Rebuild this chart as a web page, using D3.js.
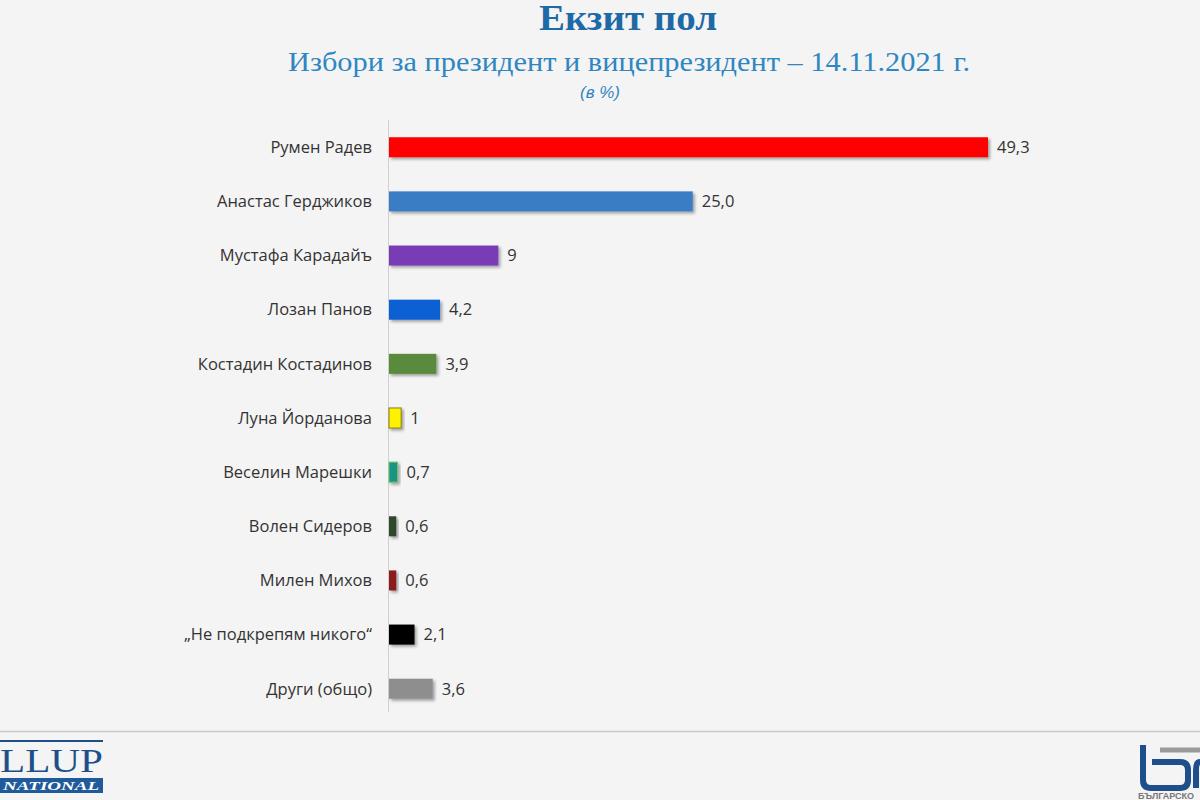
<!DOCTYPE html>
<html><head><meta charset="utf-8">
<script src="https://cdn.jsdelivr.net/npm/d3@7"></script>
<style>html,body{margin:0;padding:0;background:#f4f4f4;}svg{display:block;}</style>
</head><body>
<script>
const categories = ["Румен Радев","Анастас Герджиков","Мустафа Карадайъ","Лозан Панов","Костадин Костадинов","Луна Йорданова","Веселин Марешки","Волен Сидеров","Милен Михов","„Не подкрепям никого“","Други (общо)"];
const values = [49.3, 25.0, 9, 4.2, 3.9, 1, 0.7, 0.6, 0.6, 2.1, 3.6];
const valueLabels = ["49,3","25,0","9","4,2","3,9","1","0,7","0,6","0,6","2,1","3,6"];
const colors = ["#ff0000","#3a7dc4","#7a3bb6","#1060d4","#5a8b3c","#fff200","#1b9484","#2f4a2b","#8b1a1a","#050505","#8e8e8e"];
const strokes = [null,null,null,null,null,"#8a7a10","#6cc46c",null,null,null,null];

const W=1200,H=800;
const svg=d3.select("body").append("svg").attr("width",W).attr("height",H);
svg.append("rect").attr("width",W).attr("height",H).attr("fill","#f4f4f4");
const defs=svg.append("defs");
const f=defs.append("filter").attr("id","sh").attr("x","-20%").attr("y","-30%").attr("width","150%").attr("height","180%");
f.append("feDropShadow").attr("dx",2).attr("dy",2).attr("stdDeviation",1.5).attr("flood-color","#000").attr("flood-opacity",0.35);

// titles
svg.append("text").attr("x",628).attr("y",30).attr("text-anchor","middle")
  .attr("font-family","Liberation Serif, serif").attr("font-weight","bold").attr("font-size",35)
  .attr("fill","#1e6aa6").attr("textLength",178).attr("lengthAdjust","spacingAndGlyphs").text("Екзит пол");
svg.append("text").attr("x",629).attr("y",71).attr("text-anchor","middle")
  .attr("font-family","Liberation Serif, serif").attr("font-size",27)
  .attr("fill","#2f86c0").attr("textLength",682).attr("lengthAdjust","spacingAndGlyphs").text("Избори за президент и вицепрезидент – 14.11.2021  г.");
svg.append("text").attr("x",600).attr("y",98).attr("text-anchor","middle")
  .attr("font-family","Liberation Sans, sans-serif").attr("font-style","italic").attr("font-size",17)
  .attr("fill","#2f86c0").text("(в %)");

const x0=389;
const x=d3.scaleLinear().domain([0,49.3]).range([x0,988]);
const y=d3.scaleBand().domain(categories).range([121,715]).paddingInner(0.63).paddingOuter(0.3);

// axis line
svg.append("line").attr("x1",x0-0.5).attr("x2",x0-0.5).attr("y1",120).attr("y2",712).attr("stroke","#d0d0d0").attr("stroke-width",1);

const g=svg.append("g");
g.selectAll("rect.bar").data(values).join("rect").attr("class","bar")
  .attr("x",x0).attr("y",(d,i)=>y(categories[i]))
  .attr("width",d=>x(d)-x0).attr("height",y.bandwidth())
  .attr("fill",(d,i)=>colors[i]).attr("filter","url(#sh)")
  .attr("stroke",(d,i)=>strokes[i]||"none").attr("stroke-width",1);

g.selectAll("text.cat").data(categories).join("text").attr("class","cat")
  .attr("x",372).attr("y",d=>y(d)+y.bandwidth()/2).attr("dy","0.35em").attr("text-anchor","end")
  .attr("font-family","Open Sans, sans-serif").attr("font-size",16.5).attr("fill","#333").text(d=>d);

g.selectAll("text.val").data(values).join("text").attr("class","val")
  .attr("x",d=>x(d)+9).attr("y",(d,i)=>y(categories[i])+y.bandwidth()/2).attr("dy","0.35em")
  .attr("font-family","Open Sans, sans-serif").attr("font-size",16.5).attr("fill","#333").text((d,i)=>valueLabels[i]);

// bottom line
svg.append("line").attr("x1",0).attr("x2",W).attr("y1",731.5).attr("y2",731.5).attr("stroke","#c8c8c8").attr("stroke-width",1.5);

// left logo
svg.append("line").attr("x1",0).attr("x2",103).attr("y1",741).attr("y2",741).attr("stroke","#1f4f8a").attr("stroke-width",2);
svg.append("text").attr("x",0).attr("y",772).attr("font-family","Liberation Serif, serif").attr("font-size",34)
  .attr("fill","#1f4f8a").attr("textLength",103).attr("lengthAdjust","spacingAndGlyphs").text("LLUP");
svg.append("rect").attr("x",0).attr("y",778).attr("width",103).attr("height",15).attr("fill","#1f5a9a");
svg.append("text").attr("x",3).attr("y",790).attr("font-family","Liberation Serif, serif").attr("font-style","italic").attr("font-weight","bold").attr("font-size",12)
  .attr("fill","#fff").attr("textLength",96).attr("lengthAdjust","spacingAndGlyphs").text("NATIONAL");

// right logo
const rl=svg.append("g");
rl.append("path").attr("d","M1143,745 V780 Q1143,788 1151,788 H1180 Q1188,788 1188,780 V770 Q1188,762 1180,762 H1152")
  .attr("fill","none").attr("stroke","#1f4f8a").attr("stroke-width",6);
rl.append("line").attr("x1",1160).attr("x2",1200).attr("y1",750).attr("y2",750).attr("stroke","#9a9a9a").attr("stroke-width",5);
rl.append("path").attr("d","M1196,788 V770 Q1196,762 1200,762").attr("fill","none").attr("stroke","#1f4f8a").attr("stroke-width",6);
rl.append("text").attr("x",1138).attr("y",799).attr("font-family","Liberation Sans, sans-serif").attr("font-size",9).attr("font-weight","bold")
  .attr("fill","#777").text("БЪЛГАРСКО");
</script>
</body></html>
